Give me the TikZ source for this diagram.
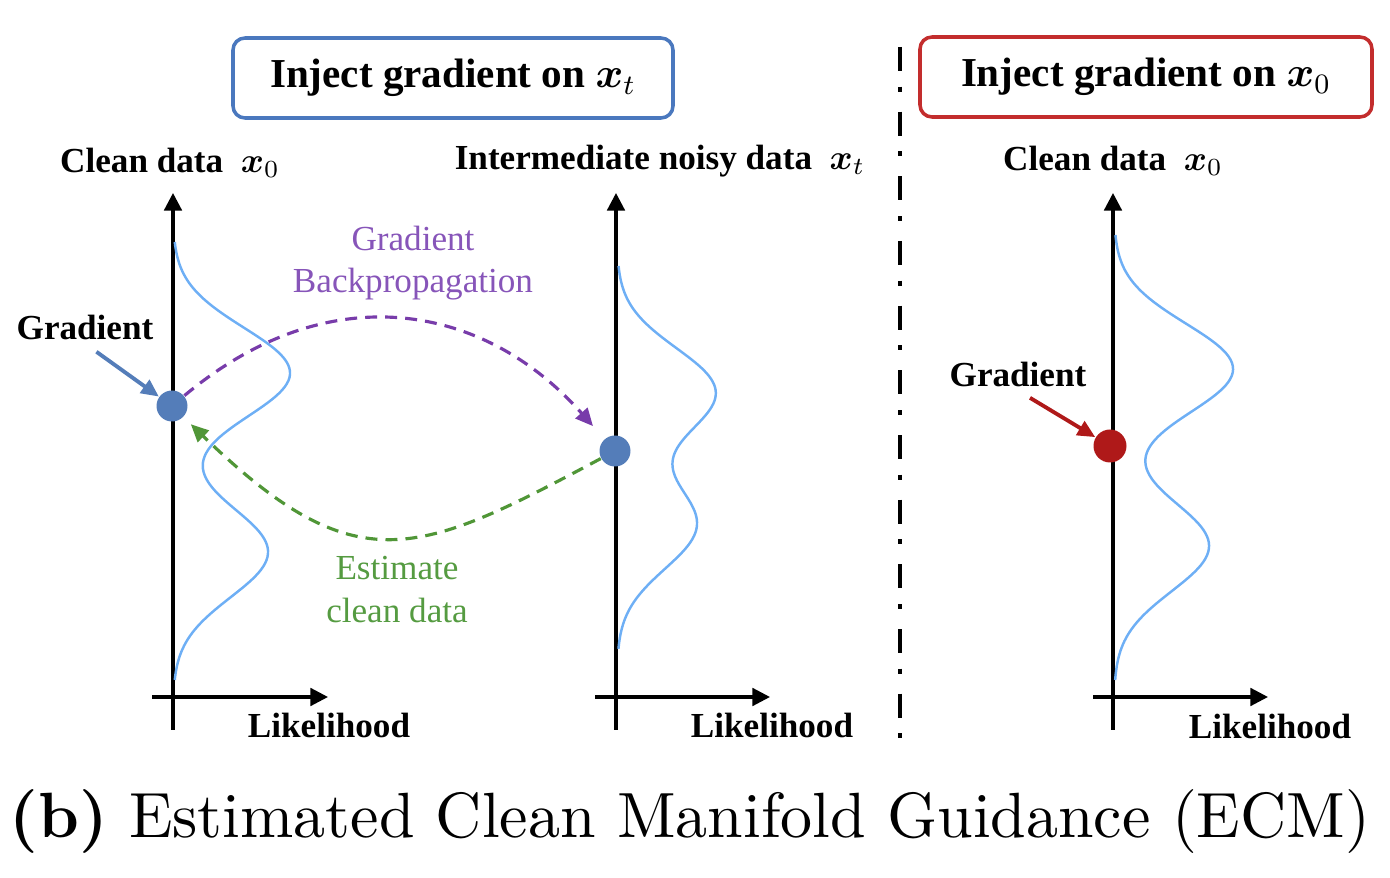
\documentclass[tikz,border=0pt]{standalone}
\usepackage{fontspec}
\usepackage{amsmath}
\newfontfamily\tnr{Liberation Serif}
\newfontfamily\capfont{lmroman10-regular.otf}[BoldFont=lmroman10-bold.otf]
\usetikzlibrary{arrows.meta}

\definecolor{boxblue}{RGB}{74,120,190}
\definecolor{boxred}{RGB}{195,45,45}
\definecolor{dotblue}{RGB}{84,125,185}
\definecolor{dotred}{RGB}{175,25,25}
\definecolor{curveblue}{RGB}{110,175,245}
\definecolor{bppurple}{RGB}{120,60,170}
\definecolor{bptext}{RGB}{135,85,185}
\definecolor{estgreen}{RGB}{80,150,55}
\definecolor{esttext}{RGB}{85,155,65}

\tikzset{
  axis/.style={line width=0.9pt, -{Triangle[length=5pt,width=5pt]}},
  density/.style={line width=0.7pt, color=curveblue},
  lbl/.style={font=\tnr\fontsize{10}{12}\selectfont\bfseries, inner sep=1pt},
  injbox/.style={draw, line width=1pt, rounded corners=0.12cm, minimum height=0.80cm,
    font=\tnr\fontsize{11.7}{14}\selectfont\bfseries},
  datadot/.style={circle, minimum size=0.31cm, inner sep=0pt},
  gradarr/.style={line width=1.1pt, -{Triangle[length=5pt,width=4.5pt]}, shorten <=4pt},
  flow/.style={line width=0.9pt, dash pattern=on 3.4pt off 2.3pt, -{Triangle[length=5pt,width=4.5pt]}},
  flowtext/.style={font=\tnr\fontsize{10}{12}\selectfont, align=center}
}

\begin{document}
\begin{tikzpicture}
  \useasboundingbox (0,0) rectangle (13.90,-8.78);

  %% titles
  \node[injbox, draw=boxblue, minimum width=4.40cm] (box1) at (4.53,-0.78) {Inject gradient on $\boldsymbol{x}_t$};
  \node[injbox, draw=boxred, minimum width=4.52cm] (box2) at (11.46,-0.77) {Inject gradient on $\boldsymbol{x}_0$};

  \draw[line width=1.3pt, dash pattern=on 6.8pt off 4.5pt on 1.4pt off 5.7pt] (9.00,-0.47) -- (9.00,-7.42);

  %% axes
  \draw[axis] (1.73,-7.30) -- (1.73,-1.93);
  \draw[axis] (1.52,-6.97) -- (3.28,-6.97);
  \draw[axis] (6.16,-7.30) -- (6.16,-1.93);
  \draw[axis] (5.95,-6.97) -- (7.70,-6.97);
  \draw[axis] (11.13,-7.30) -- (11.13,-1.93);
  \draw[axis] (10.93,-6.97) -- (12.68,-6.97);

  \node[lbl] (ylab1) at (1.70,-1.63) {Clean data\ \ $\boldsymbol{x}_0$};
  \node[lbl] (ylab2) at (6.60,-1.61) {Intermediate noisy data\ \ $\boldsymbol{x}_t$};
  \node[lbl] (ylab3) at (11.13,-1.61) {Clean data\ \ $\boldsymbol{x}_0$};
  \node[lbl] (xlab1) at (3.29,-7.25) {Likelihood};
  \node[lbl] (xlab2) at (7.72,-7.25) {Likelihood};
  \node[lbl] (xlab3) at (12.70,-7.26) {Likelihood};

  %% densities
  \draw[density] plot[domain=2.42:6.80, samples=140]
    ({1.73 + 1.17*exp(-((\x-3.73)/0.64)^2) + 0.95*exp(-((\x-5.52)/0.64)^2)}, -\x);
  \draw[density] plot[domain=2.66:6.49, samples=140]
    ({6.17 + 0.98*exp(-((\x-3.92)/0.62)^2) + 0.79*exp(-((\x-5.25)/0.62)^2)}, -\x);
  \draw[density] plot[domain=2.35:6.80, samples=140]
    ({11.14 + 1.19*exp(-((\x-3.69)/0.64)^2) + 0.95*exp(-((\x-5.46)/0.64)^2)}, -\x);

  %% points
  \node[datadot, fill=dotblue] (ga) at (1.72,-4.06) {};
  \node[datadot, fill=dotblue] (gb) at (6.15,-4.51) {};
  \node[datadot, fill=dotred, minimum size=0.33cm] (gc) at (11.10,-4.46) {};

  \node[lbl] (glab1) at (0.85,-3.27) {Gradient};
  \node[lbl] (glab3) at (10.18,-3.74) {Gradient};
  \draw[gradarr, dotblue] (glab1.south) -- (ga);
  \draw[gradarr, dotred] (glab3.south) -- (gc);

  %% backprop / estimate
  \draw[flow, bppurple, shorten >=0.17cm] (ga) .. controls +(1.58,1.32) and +(-1.30,1.47) .. (gb);
  \node[flowtext, text=bptext] (bplab) at (4.13,-2.635) {Gradient\\Backpropagation};
  \draw[flow, estgreen, shorten >=0.10cm] (gb) .. controls +(-1.97,-1.05) and +(1.85,-1.79) .. (ga);
  \node[flowtext, text=esttext] (estlab) at (3.97,-5.895) {Estimate\\clean data};

  \node (cap) at (6.90,-8.22) {\capfont\fontsize{18.2}{21}\selectfont\textbf{(b)} Estimated Clean Manifold Guidance (ECM)};
\end{tikzpicture}
\end{document}
